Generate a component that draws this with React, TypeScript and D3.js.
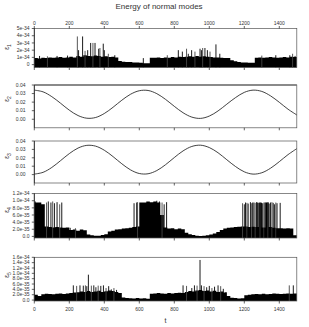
import React from "react";
import * as d3 from "d3";

// time axis
const tMax = 1500;
const tStep = 20; // spacing of the base samples
const xTicks = [0, 200, 400, 600, 800, 1000, 1200, 1400];

// e1 (units of 1e-34), sampled every 20
const e1Base = [
  0.9, 0.85, 0.95, 0.9, 1.0, 0.95, 1.0, 1.05, 0.95, 1.0, 1.1, 1.0,
  1.2, 1.1, 1.3, 1.2, 1.15, 1.25, 1.2, 1.1, 1.15, 1.05, 1.1, 1.0,
  0.5, 0.4, 0.35, 0.35, 0.3, 0.3, 0.25, 0.2, 0.2, 0.95,
  0.95, 1.0, 0.9, 1.0, 0.95, 1.05, 1.0, 1.1, 1.05, 1.1, 1.15, 1.1, 1.2, 1.1, 1.15, 1.1, 1.05, 1.0, 1.0, 0.95, 0.9, 0.9,
  0.6, 0.45, 0.35, 0.3, 0.3, 0.25, 0.25,
  0.95, 1.0, 0.95, 1.0, 1.05, 1.0, 0.95, 1.0, 1.05, 1.0, 1.1, 1.05, 1.2,
];
const e1Spikes: [number, number][] = [
  [30, 1.2], [75, 1.15], [130, 1.2], [190, 1.25], [246, 3.9], [253, 2.0], [276, 3.9], [290, 1.9],
  [305, 2.0], [322, 3.0], [335, 3.0], [347, 3.0], [368, 2.2], [375, 2.3], [394, 2.9],
  [400, 2.0], [423, 1.5], [460, 1.3], [623, 0.9], [760, 1.3], [823, 2.0], [846, 1.8],
  [870, 2.2], [880, 1.5], [899, 2.0], [918, 1.8], [947, 2.2], [955, 2.0], [962, 2.3],
  [975, 2.3], [989, 2.0], [1004, 1.8], [1038, 2.8], [1060, 1.5], [1300, 1.25],
  [1380, 1.3], [1460, 1.3], [1476, 1.5], [1490, 1.2],
];
const e1Ticks = [0, 1, 2, 3, 4, 5];
const e1TickLabels = ["0", "1e-34", "2e-34", "3e-34", "4e-34", "5e-34"];

// e2 and e3, sampled every 50
const smoothStep = 50;
const e2 = [
  0.034, 0.032, 0.0264, 0.0187, 0.0106, 0.0043, 0.0012, 0.002, 0.0067, 0.014, 0.0222,
  0.0292, 0.0333, 0.0336, 0.0299, 0.0232, 0.0151, 0.0076, 0.0025, 0.001, 0.0037,
  0.0097, 0.0176, 0.0253, 0.0314, 0.034, 0.0325, 0.0273, 0.0198, 0.0117, 0.005,
];
const e3 = [
  0.0006, 0.0027, 0.0085, 0.0166, 0.025, 0.0316, 0.0348, 0.0339, 0.029, 0.0214, 0.0129,
  0.0056, 0.0013, 0.001, 0.0048, 0.0118, 0.0203, 0.0282, 0.0335, 0.035, 0.0322,
  0.026, 0.0177, 0.0096, 0.0033, 0.0006, 0.0022, 0.0076, 0.0154, 0.0238, 0.0309,
];
const smallTicks = [0, 0.01, 0.02, 0.03, 0.04];
const smallTickLabels = ["0.00", "0.01", "0.02", "0.03", "0.04"];

// e4 (units of 1e-35), sampled every 20
const e4Base = [
  9.5, 9.5, 9.0, 2.8, 2.6, 2.5, 2.6, 2.5, 2.4, 2.5,
  1.8, 1.9, 1.6, 1.9, 1.7, 0.5, 0.3, 0.2, 0.2, 0.4,
  0.6, 1.4, 1.6, 1.9, 2.0, 2.2, 2.3, 2.4, 2.6, 2.8,
  9.5, 9.5, 9.8, 9.6, 9.8, 9.5, 6.0, 2.5, 2.2, 2.3,
  2.0, 2.2, 2.0, 1.0, 0.6, 0.4, 0.2, 0.1, 0.2, 0.3,
  0.5, 0.8, 1.2, 1.8, 2.2, 2.4, 2.5, 2.6, 2.7, 2.8,
  2.8, 2.6, 2.7, 2.6, 9.4, 2.5, 9.5, 2.6, 2.4, 2.3,
  2.3, 2.2, 2.3, 2.2, 0.3, 2.3,
];
const e4Spikes: [number, number][] = [
  [5, 9.8], [70, 9.5], [80, 9.8], [95, 9.5], [105, 9.8], [115, 9.3], [130, 9.6], [145, 9.0],
  [157, 9.5], [205, 2.4], [235, 2.3], [570, 9.3], [585, 9.5], [590, 9.6], [700, 10.0],
  [715, 9.8], [730, 9.5], [742, 9.0], [756, 9.6], [1190, 9.3], [1200, 9.0], [1207, 9.5],
  [1215, 9.4], [1222, 9.2], [1235, 9.6], [1242, 9.3], [1248, 9.5], [1255, 9.5], [1262, 9.4],
  [1270, 9.6], [1275, 9.5], [1290, 9.6], [1297, 9.4], [1305, 9.3], [1312, 9.5], [1318, 9.5],
  [1328, 9.4], [1335, 9.6], [1342, 9.2], [1350, 9.5], [1358, 9.6], [1365, 9.4],
  [1372, 9.0], [1380, 9.5], [1387, 9.3], [1405, 9.4],
];
const e4Ticks = [0, 2, 4, 6, 8, 10, 12];
const e4TickLabels = ["0.0", "2.0e-35", "4.0e-35", "6.0e-35", "8.0e-35", "1.0e-34", "1.2e-34"];

// e5 (units of 1e-35), sampled every 20
const e5Base = [
  2.0, 1.5, 2.2, 2.4, 2.3, 2.2, 2.4, 2.5, 2.3, 2.5,
  2.6, 2.8, 2.9, 3.2, 3.0, 3.4, 3.0, 3.2, 3.5, 3.0, 3.3, 3.6, 3.4, 3.0, 2.6,
  1.0, 0.8, 0.7, 0.6, 0.8, 0.6, 0.7, 0.5,
  2.4, 2.5, 2.6, 2.5, 2.4, 2.6, 2.5, 2.6, 2.7, 2.6,
  3.0, 3.4, 3.2, 3.6, 3.8, 3.4, 3.6, 3.2, 3.5, 3.0, 3.2, 2.8,
  1.5, 0.9, 0.8, 0.6, 0.7,
  1.8, 2.0, 2.2, 2.3, 2.2, 2.4, 2.2, 2.3, 2.5, 2.4, 2.3, 2.4, 2.5, 2.4, 2.5, 2.6,
];
const e5Spikes: [number, number][] = [
  [223, 5.5], [242, 5.3], [261, 5.5], [280, 5.4], [292, 5.5], [300, 5.2], [309, 9.5],
  [326, 5.4], [340, 5.5], [352, 4.8], [365, 5.4], [380, 5.3], [395, 5.5], [410, 4.5],
  [425, 5.2], [440, 4.0], [455, 4.5], [470, 3.8], [850, 5.5], [870, 5.3], [900, 4.5],
  [915, 5.5], [930, 5.4], [947, 15.0], [955, 5.5], [970, 5.2], [985, 4.8], [1000, 5.3],
  [1015, 4.5], [1030, 5.0], [1050, 5.5], [1065, 5.2], [1080, 4.2], [1095, 3.0],
  [1457, 5.5], [1480, 5.5],
];
const e5Ticks = [0, 2, 4, 6, 8, 10, 12, 14, 16];
const e5TickLabels = [
  "0.0", "2.0e-35", "4.0e-35", "6.0e-35", "8.0e-35", "1.0e-34", "1.2e-34", "1.4e-34", "1.6e-34",
];

const font = "'Liberation Sans', Arial, sans-serif";
const x = d3.scaleLinear().domain([0, tMax]).range([34.3, 296.8]);

type Panel = {
  top: number;
  bottom: number;
  domain: [number, number];
  ticks: number[];
  labels: string[];
  labelEnd: number;
  sub: string;
  subY: number;
  base?: number[];
  spikes?: [number, number][];
  smooth?: number[];
  topAxis?: boolean;
  thickTop?: boolean;
  bottomLabels?: boolean;
};

const panels: Panel[] = [
  { top: 28.5, bottom: 67.5, domain: [-0.4, 5], ticks: e1Ticks, labels: e1TickLabels, labelEnd: 29.5, sub: "1", subY: 47, base: e1Base, spikes: e1Spikes, topAxis: true },
  { top: 85, bottom: 127.8, domain: [-0.01, 0.04], ticks: smallTicks, labels: smallTickLabels, labelEnd: 25.5, sub: "2", subY: 99, smooth: e2, thickTop: true },
  { top: 141, bottom: 183, domain: [-0.01, 0.04], ticks: smallTicks, labels: smallTickLabels, labelEnd: 25.5, sub: "3", subY: 156, smooth: e3 },
  { top: 193.6, bottom: 238, domain: [-0.45, 12], ticks: e4Ticks, labels: e4TickLabels, labelEnd: 29.5, sub: "4", subY: 210, base: e4Base, spikes: e4Spikes },
  { top: 257.3, bottom: 301, domain: [-0.35, 16], ticks: e5Ticks, labels: e5TickLabels, labelEnd: 29.5, sub: "5", subY: 275, base: e5Base, spikes: e5Spikes, bottomLabels: true },
];

const PanelView = ({ p }: { p: Panel }) => {
  const y = d3.scaleLinear().domain(p.domain).range([p.bottom, p.top]);
  const [x0, x1] = x.range();
  const area = d3
    .area<number>()
    .x((_, i) => x(Math.min(i * tStep, tMax)))
    .y0(p.bottom)
    .y1((d) => y(d))
    .curve(d3.curveStepAfter);
  const line = d3
    .line<number>()
    .x((_, i) => x(i * smoothStep))
    .y((d) => y(d))
    .curve(d3.curveCatmullRom);
  return (
    <g>
      {p.base && <path d={area([...p.base, p.base[p.base.length - 1]]) ?? ""} fill="#000" />}
      {p.spikes &&
        p.spikes.map(([t, v], i) => (
          <line key={i} x1={x(t)} x2={x(t)} y1={p.bottom} y2={y(v)} stroke={i % 3 === 1 ? "#444" : "#000"} strokeWidth={0.9} />
        ))}
      {p.smooth && <path d={line(p.smooth) ?? ""} fill="none" stroke="#111" strokeWidth={0.8} />}
      {/* frame */}
      <rect x={x0} y={p.top} width={x1 - x0} height={p.bottom - p.top} fill="none" stroke="#555" strokeWidth={0.7} />
      {p.thickTop && <line x1={x0} x2={x1} y1={p.top} y2={p.top} stroke="#777" strokeWidth={1.6} />}
      <line x1={x0} x2={x0} y1={p.top} y2={p.bottom} stroke="#222" strokeWidth={0.8} />
      {/* y ticks */}
      {p.ticks.map((t, i) => (
        <g key={t}>
          <line x1={x0 - 2.5} x2={x0} y1={y(t)} y2={y(t)} stroke="#222" strokeWidth={0.7} />
          <text x={p.labelEnd} y={y(t)} dy="0.35em" textAnchor="end" fontSize={5} fontFamily={font} fill="#333">
            {p.labels[i]}
          </text>
        </g>
      ))}
      {/* x ticks on bottom */}
      {xTicks.map((t) => (
        <line key={t} x1={x(t)} x2={x(t)} y1={p.bottom} y2={p.bottom + 2.5} stroke="#222" strokeWidth={0.7} />
      ))}
      {p.bottomLabels &&
        xTicks.map((t) => (
          <text key={t} x={x(t)} y={p.bottom + 9.5} textAnchor="middle" fontSize={5} fontFamily={font} fill="#333">
            {t}
          </text>
        ))}
      {p.topAxis &&
        xTicks.map((t) => (
          <g key={t}>
            <line x1={x(t)} x2={x(t)} y1={p.top} y2={p.top - 2.5} stroke="#222" strokeWidth={0.7} />
            <text x={x(t)} y={p.top - 3.5} textAnchor="middle" fontSize={5} fontFamily={font} fill="#333">
              {t}
            </text>
          </g>
        ))}
      <text transform={`translate(9,${p.subY}) rotate(-90)`} textAnchor="middle" fontSize={6.5} fontFamily={font} fill="#333">
        ε<tspan fontSize={5} dy="1.5">{p.sub}</tspan>
      </text>
    </g>
  );
};

const App = () => {
  return (
    <svg width={309} height={327} style={{ position: "absolute", left: 0, top: 0, background: "#fff" }}>
      <text x={159} y={8.5} textAnchor="middle" fontSize={8} fontFamily={font} fill="#333">
        Energy of normal modes
      </text>
      {panels.map((p) => (
        <PanelView key={p.sub} p={p} />
      ))}
      <text x={165.5} y={323} textAnchor="middle" fontSize={7} fontFamily={font} fill="#333">
        t
      </text>
    </svg>
  );
};

export default App;
